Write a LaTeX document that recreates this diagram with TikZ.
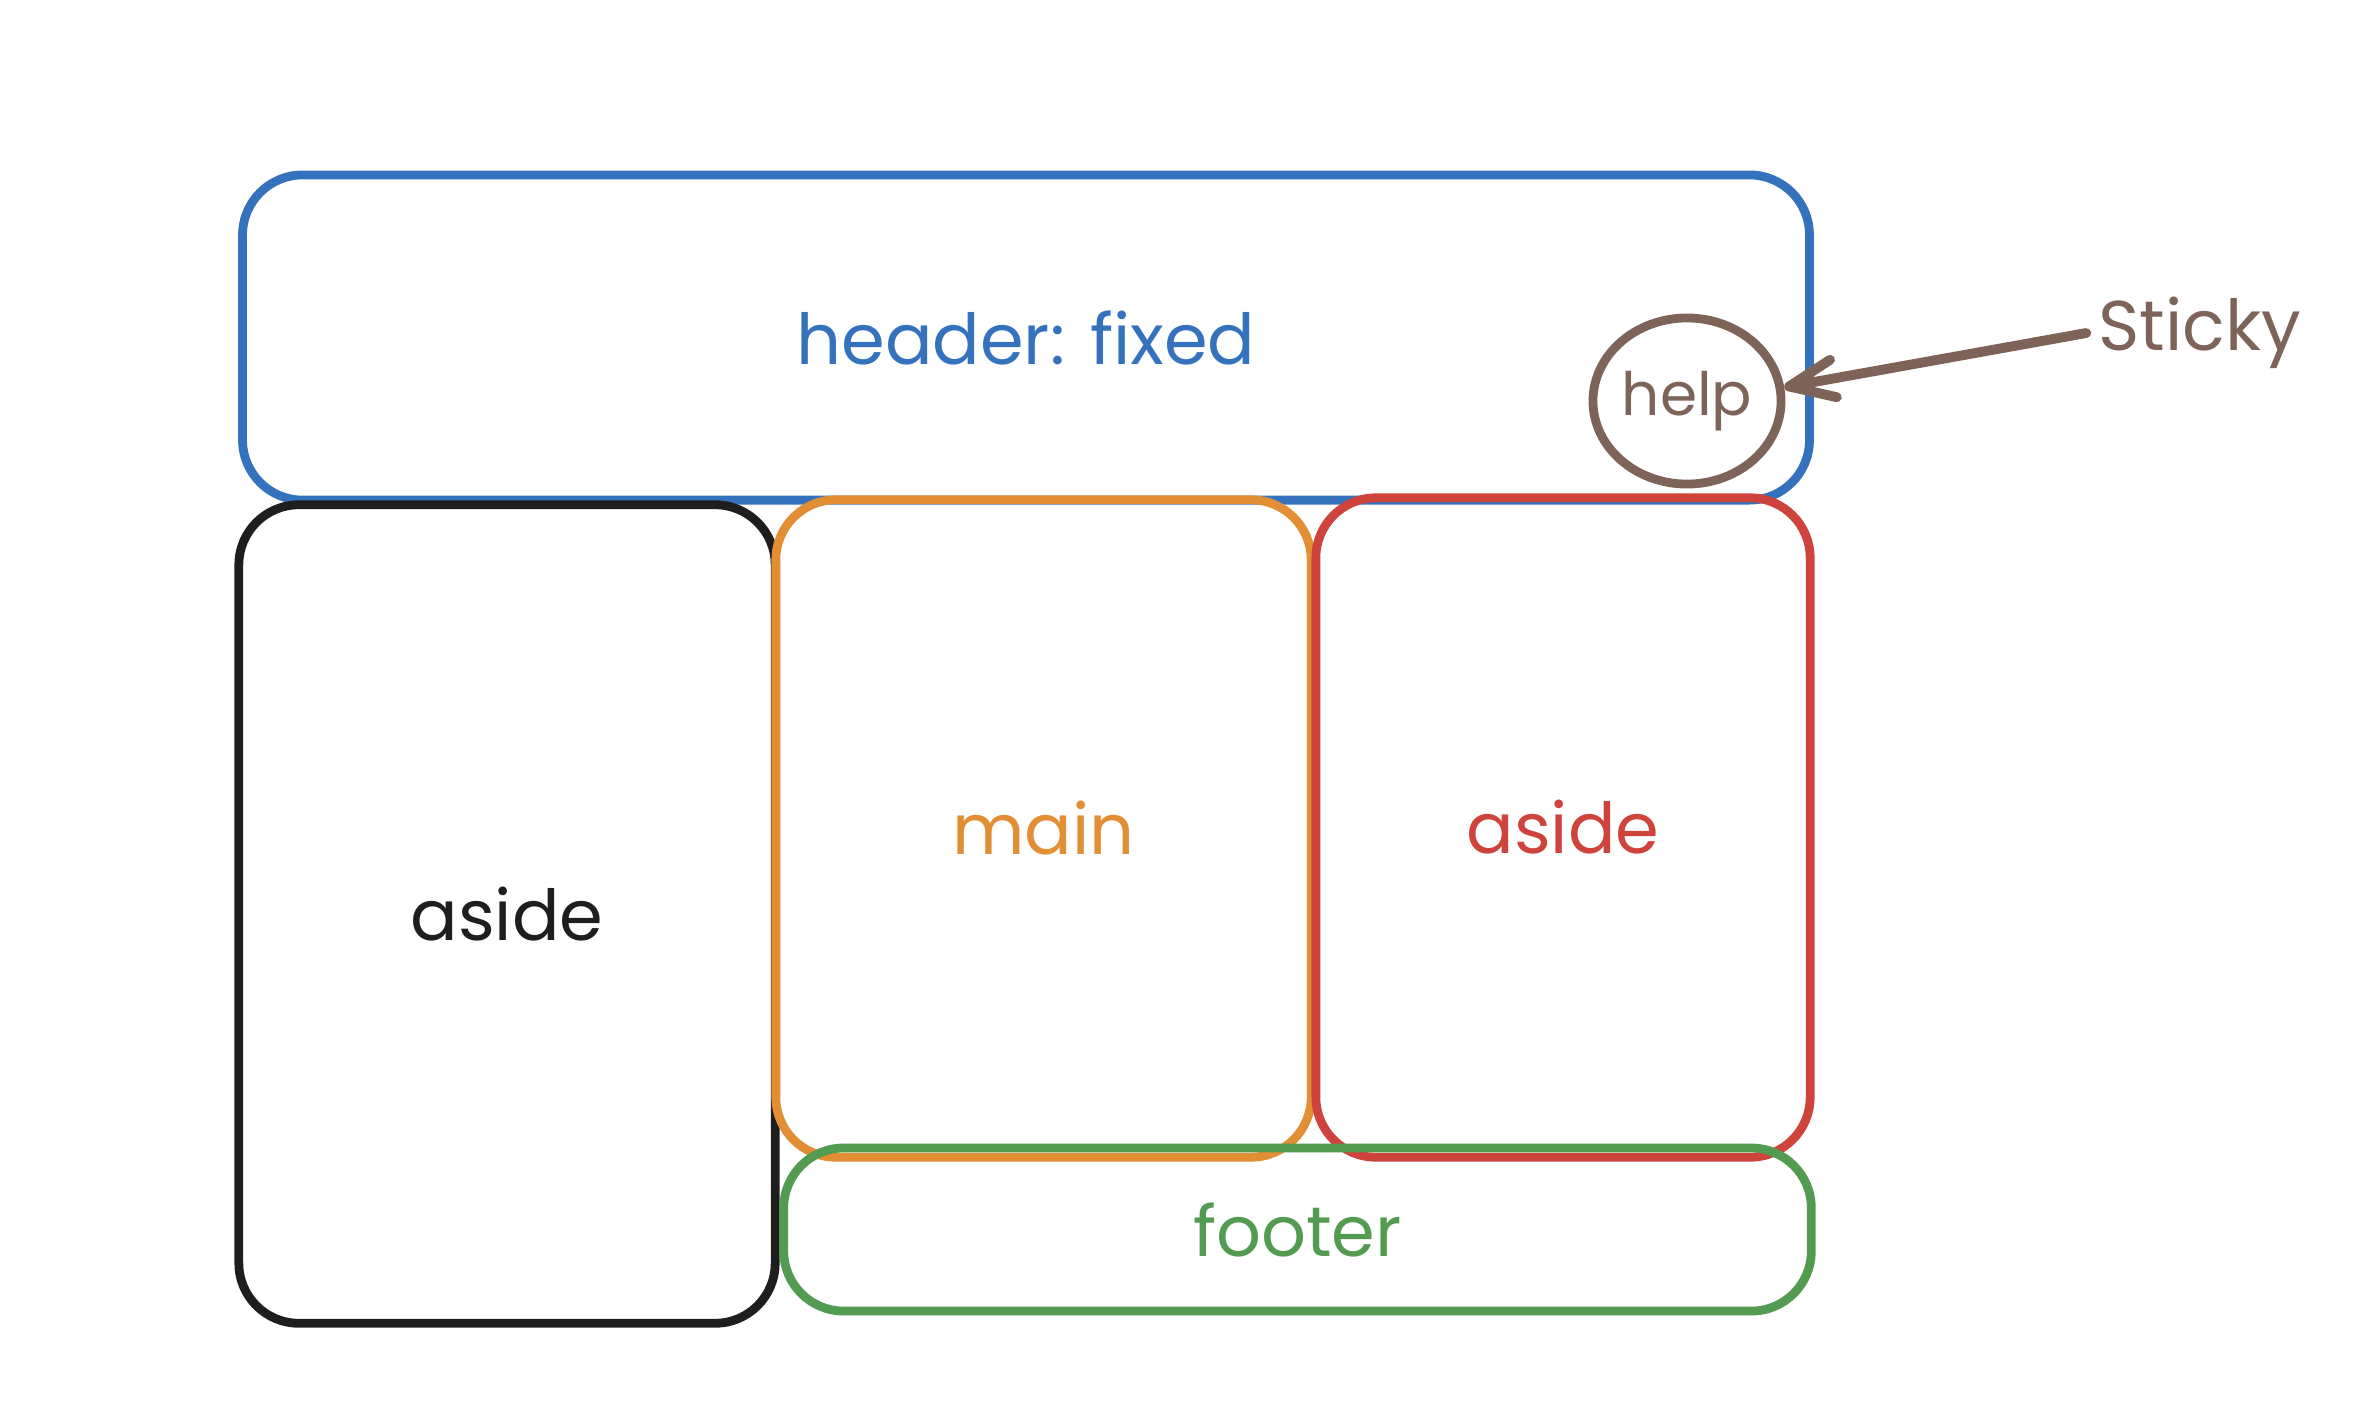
\documentclass[tikz,border=0pt]{standalone}
\usepackage{fontspec}
\setmainfont{Poppins}
\usetikzlibrary{shapes.geometric, arrows.meta, positioning}
\definecolor{hdrblue}{RGB}{53, 114, 189}
\definecolor{mainorange}{RGB}{226, 142, 52}
\definecolor{asidered}{RGB}{206, 67, 60}
\definecolor{footgreen}{RGB}{82, 155, 80}
\definecolor{notebrown}{RGB}{126, 100, 88}
\definecolor{inkblack}{RGB}{30, 30, 30}

\begin{document}
\begin{tikzpicture}[x=0.01cm, y=-0.01cm,
  area/.style={rectangle, rounded corners=0.6cm, line width=2.5pt, inner sep=0pt, font=\fontsize{20}{24}\selectfont},
  note/.style={font=\fontsize{20}{24}\selectfont, text=notebrown}]
  \useasboundingbox (0,0) rectangle (2370,1420);

  % Header bar
  \node[area, draw=hdrblue, text=hdrblue, minimum width=15.66cm, minimum height=3.25cm] (header) at (1026, 337.5) {header: fixed};

  % Left aside
  \node[area, draw=inkblack, text=inkblack, minimum width=5.36cm, minimum height=8.18cm] (asideleft) at (507, 914) {aside};

  % Main column
  \node[area, draw=mainorange, text=mainorange, minimum width=5.35cm, minimum height=6.57cm] (main) at (1043.5, 828.5) {main};

  % Right aside
  \node[area, draw=asidered, text=asidered, minimum width=4.94cm, minimum height=6.59cm] (asideright) at (1563, 827.5) {aside};

  % Footer
  \node[area, draw=footgreen, text=footgreen, minimum width=10.27cm, minimum height=1.63cm] (footer) at (1297.5, 1229.5) {footer};

  % Help button and its note
  \node[ellipse, draw=notebrown, line width=2.5pt, inner sep=0pt, minimum width=1.88cm, minimum height=1.66cm, note, font=\fontsize{17}{20}\selectfont] (help) at (1687, 401) {help};
  \node[note] (sticky) at (2200, 333) {Sticky};
  \draw[-{Straight Barb[length=4.5mm, width=3.8mm, round]}, line width=2.8pt, notebrown, line cap=round] (sticky.west) -- (help.8);
\end{tikzpicture}
\end{document}
